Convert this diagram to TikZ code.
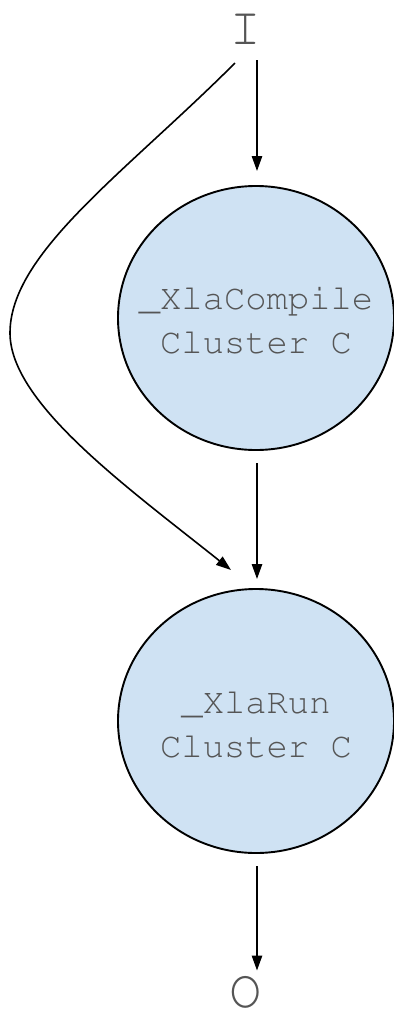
\documentclass[tikz,border=0pt]{standalone}
\usepackage[T1]{fontenc}
\usepackage{courier}
\usetikzlibrary{shapes.geometric,arrows.meta}
\definecolor{nodefill}{HTML}{CFE2F3}
\definecolor{txtgray}{HTML}{555555}
\tikzset{
  blob/.style={ellipse, draw=black, line width=0.95pt, fill=nodefill,
    minimum width=138pt, minimum height=132pt, inner sep=0pt, outer sep=0pt},
  blobtext/.style={inner sep=0pt, outer sep=0pt, align=center, text=txtgray,
    font=\ttfamily\fontsize{17.75pt}{22pt}\selectfont},
  term/.style={inner sep=0pt, outer sep=0pt, text=txtgray,
    font=\ttfamily\fontsize{27pt}{27pt}\selectfont},
  arr/.style={line width=0.8pt, -{Triangle[length=7.5pt,width=5.2pt]}}
}
\begin{document}
\begin{tikzpicture}[x=0.5pt,y=-0.5pt]
\useasboundingbox (0,0) rectangle (393,1013);
\node[term] (I) at (246,29) {I};
\node[blob] (c1) at (256,318) {};
\node[blobtext] (t1) at (256,320) {\_XlaCompile\\Cluster C};
\node[blob] (c2) at (256,721) {};
\node[blobtext] (t2) at (256,724) {\_XlaRun\\Cluster C};
\node[term] (O) at (246,992) {O};
\coordinate (cs) at (235,63);
\coordinate (cl) at (10,333);
\coordinate (ce) at (231,570);
\draw[arr] ([xshift=5.5pt,yshift=-8pt]I.south) -- ([xshift=0.5pt,yshift=7.5pt]c1.north);
\draw[arr] ([xshift=0.5pt,yshift=-6.5pt]c1.south) -- ([xshift=0.5pt,yshift=5pt]c2.north);
\draw[arr] ([xshift=0.5pt,yshift=-6.5pt]c2.south) -- ([xshift=5.5pt,yshift=2.5pt]O.north);
\draw[arr] (cs) .. controls (125,173) and (10,253) .. (cl)
  .. controls (10,403) and (127,487) .. (ce);
\end{tikzpicture}
\end{document}
